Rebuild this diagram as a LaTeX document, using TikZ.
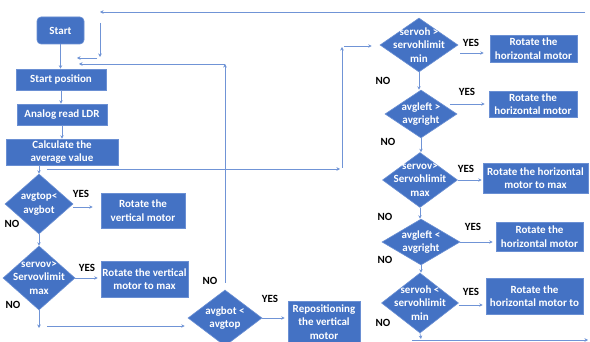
\documentclass[tikz,border=0pt]{standalone}
\usepackage{fontspec}
\setmainfont{Carlito}
\usetikzlibrary{shapes.geometric,arrows.meta,calc}
\definecolor{boxblue}{HTML}{4472C4}
\definecolor{lineblue}{HTML}{7094D6}
\definecolor{edgeblue}{HTML}{6A8FD3}
\begin{document}
\begin{tikzpicture}[x=1pt,y=-1pt,
 font=\fontsize{11}{13.5}\selectfont\bfseries,
 box/.style={draw=edgeblue, line width=0.6pt, fill=boxblue, text=white, align=center, inner sep=1pt},
 dia/.style={diamond, draw=edgeblue, line width=0.6pt, fill=boxblue, inner sep=0pt},
 dtext/.style={text=white, align=center, inner sep=0pt},
 lab/.style={text=black, inner sep=0pt},
 arr/.style={draw=lineblue, line width=0.6pt, -{Stealth[length=3.5pt,width=3.5pt]}},
 ln/.style={draw=lineblue, line width=0.6pt}]
\useasboundingbox (0,0) rectangle (590,342);
\fill[white] (0,0) rectangle (590,342);

% left column
\node[box, rounded corners=4pt, minimum width=47pt, minimum height=27pt] (start) at (60.5,30.5) {Start};
\node[box, minimum width=90pt, minimum height=21pt] (sp) at (61,79.5) {Start position};
\node[box, minimum width=90pt, minimum height=21pt] (ldr) at (62,114.5) {Analog read LDR};
\node[box, minimum width=112pt, minimum height=26pt] (avg) at (62,152) {Calculate the\\average value};

\node[dia, minimum width=68pt, minimum height=60pt, label={[dtext]center:avgtop<\\avgbot}] (d1) at (39,204) {};
\node[box, minimum width=84pt, minimum height=35pt] (r1) at (143,210.5) {Rotate the\\vertical motor};
\node[dia, minimum width=72pt, minimum height=64pt, label={[dtext]center:servov>\\Servovlimit\\max}] (d2) at (39,278) {};
\node[box, minimum width=87pt, minimum height=36pt] (r2) at (144.5,279) {Rotate the vertical\\motor to max};
\node[dia, minimum width=74pt, minimum height=56pt, label={[dtext]center:avgbot <\\avgtop}] (d3) at (225,318) {};
\node[box, minimum width=72pt, minimum height=42pt] (r3) at (324,322) {Repositioning\\the vertical\\motor};

% right column
\node[dia, minimum width=78pt, minimum height=54pt, label={[dtext]center:servoh >\\servohlimit\\min}] (d4) at (419,45) {};
\node[box, minimum width=87pt, minimum height=27pt] (r4) at (533.5,48.5) {Rotate the\\horizontal motor};
\node[dia, minimum width=72pt, minimum height=48pt, label={[dtext]center:avgleft >\\avgright}] (d5) at (421,114) {};
\node[box, minimum width=88pt, minimum height=26pt] (r5) at (533,104) {Rotate the\\horizontal motor};
\node[dia, minimum width=75pt, minimum height=55pt, label={[dtext]center:servov>\\Servohlimit\\max}] (d6) at (420,180) {};
\node[box, minimum width=105pt, minimum height=30pt] (r6) at (535.5,178) {Rotate the horizontal\\motor to max};
\node[dia, minimum width=78pt, minimum height=46pt, label={[dtext]center:avgleft <\\avgright}] (d7) at (421,242) {};
\node[box, minimum width=87pt, minimum height=29pt] (r7) at (539.5,236.5) {Rotate the\\horizontal motor};
\node[dia, minimum width=77pt, minimum height=60pt, label={[dtext]center:servoh <\\servohlimit\\min}] (d8) at (420,303) {};
\node[box, minimum width=97pt, minimum height=36pt] (r8) at (534.5,296) {Rotate the\\horizontal motor to};

% labels
\node[lab] (y1) at (81,194) {YES};
\node[lab] (y2) at (87,268) {YES};
\node[lab] (y3) at (270,299) {YES};
\node[lab] (y4) at (471,43) {YES};
\node[lab] (y5) at (467,92) {YES};
\node[lab] (y6) at (466,169) {YES};
\node[lab] (y7) at (473,227) {YES};
\node[lab] (y8) at (471,292) {YES};
\node[lab] (n1) at (12,224) {NO};
\node[lab] (n2) at (13,305) {NO};
\node[lab] (n3) at (210,281) {NO};
\node[lab] (n4) at (383,81) {NO};
\node[lab] (n5) at (388,142) {NO};
\node[lab] (n6) at (385,217) {NO};
\node[lab] (n7) at (385,260) {NO};
\node[lab] (n8) at (383,323) {NO};

% coordinates for free ends
\coordinate (c1) at (39,328);
\coordinate (c2) at (47,326);
\coordinate (c3) at (225,283);
\coordinate (c4) at (225,64);
\coordinate (c5) at (79,64);
\coordinate (c6) at (585,12);
\coordinate (c7) at (100,12);
\coordinate (c8) at (100,23);
\coordinate (c9) at (100,57);
\coordinate (c10) at (97,58);
\coordinate (c11) at (77,58);
\coordinate (c12) at (47,169);
\coordinate (c13) at (340,169);
\coordinate (c14) at (342,168);
\coordinate (c15) at (342,47);
\coordinate (c16) at (344,46);
\coordinate (c17) at (421,339);
\coordinate (c18) at (412,340);
\coordinate (c19) at (588,340);

% left connectors
\draw[arr] (start.south) -- (start.south |- sp.north);
\draw[arr] (sp.south) -- (sp.south |- ldr.north);
\draw[arr] (ldr.south) -- (ldr.south |- avg.north);
\draw[arr] (avg.south -| d1.north) -- (d1.north);
\draw[arr] ($(d1.east)+(0,3)$) -- ($(d1.east -| r1.west)+(-8,3)$);
\draw[arr] (d1.south) -- (d2.north);
\draw[arr] (d2.east) -- ($(d2.east -| r2.west)+(-3,0)$);
\draw[arr] (d2.south) -- (c1);
\draw[arr] (c2) -- ($(c2 -| d3.west)+(-3,0)$);
\draw[arr] (d3.east) -- ($(d3.east -| r3.west)+(-3,0)$);
\draw[arr] (c3) -- (c4);
\draw[arr] (c4) -- (c5);
\draw[arr] (c6) -- (c7);
\draw[arr] (c8) -- (c9);
\draw[arr] (c10) -- (c11);
\draw[arr] (c12) -- (c13);
\draw[arr] (c14) -- (c15);
\draw[arr] (c16) -- ($(c16 -| d4.west)+(-8,0)$);

% right connectors
\draw[arr] ($(d4.east)+(2,8)$) -- ($(d4.east -| r4.west)+(-6,8)$);
\draw[arr] (d4.south) -- (d4.south |- d5.north);
\draw[arr] ($(d5.east)+(-7,-10)$) -- ($(d5.east -| r5.west)+(-4,-10)$);
\draw[arr] (d5.south) -- (d5.south |- d6.north);
\draw[arr] (d6.east) -- ($(d6.east -| r6.west)+(-1,0)$);
\draw[arr] (d6.south) -- (d6.south |- d7.north);
\draw[arr] (d7.east) -- ($(d7.east -| r7.west)+(-3,0)$);
\draw[arr] (d7.south) -- (d7.south |- d8.north);
\draw[arr] ($(d8.east)+(0,2)$) -- ($(d8.east -| r8.west)+(-3,2)$);
\draw[arr] (d8.south) -- (c17);
\draw[arr] (c18) -- (c19);
\end{tikzpicture}
\end{document}
